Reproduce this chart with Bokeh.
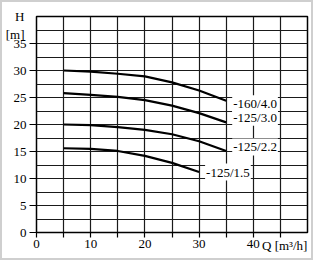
from bokeh.plotting import figure
from bokeh.models import FixedTicker, Range1d, InlineStyleSheet, LinearAxis
from bokeh.core.properties import value
from bokeh.embed import file_html
from bokeh.resources import INLINE

# Data
q_common = [5, 10, 15, 20, 25, 30, 35]
h_160_40 = [30.0, 29.8, 29.4, 28.9, 27.8, 26.3, 24.4]
h_125_30 = [25.8, 25.5, 25.1, 24.5, 23.5, 22.1, 20.4]
h_125_22 = [20.0, 19.9, 19.5, 19.0, 18.2, 16.9, 15.1]
q_125_15 = [5, 10, 15, 20, 25, 30]
h_125_15 = [15.6, 15.5, 15.1, 14.2, 12.9, 11.2]
series_names = ["-160/4.0", "-125/3.0", "-125/2.2", "-125/1.5"]
x_tick_labels = ["0", "10", "20", "30", "40"]
y_tick_labels = ["0", "5", "10", "15", "20", "25", "30", "35"]
x_title = "Q [m³/h]"
y_title = "\nH\n[m]"

FONT = "Times New Roman"

p = figure(width=313, height=260, output_backend="svg", toolbar_location=None,
           x_range=Range1d(0, 50), y_range=Range1d(0, 40),
           min_border_left=31, min_border_right=8, min_border_top=14, min_border_bottom=30)
p.background_fill_color = "white"
p.border_fill_color = "white"
p.outline_line_color = "black"
p.outline_line_width = 1.5
p.stylesheets = [InlineStyleSheet(css=":host { border: 2px solid #cfcfcf; }")]

# grids
p.xgrid.ticker = FixedTicker(ticks=[5 * i for i in range(1, 10)])
p.ygrid.ticker = FixedTicker(ticks=[2.5 * i for i in range(1, 16)])
for g in (p.xgrid, p.ygrid):
    g.grid_line_color = "#1a1a1a"
    g.grid_line_width = 1.2

# x axis
xt = [5 * i for i in range(0, 10)]
p.xaxis.ticker = FixedTicker(ticks=xt)
overrides = {}
for t in xt:
    overrides[t] = x_tick_labels[t // 10] if t % 10 == 0 else ""
p.xaxis.major_label_overrides = overrides
p.xaxis.axis_line_color = None
p.xaxis.major_tick_in = 0
p.xaxis.major_tick_out = 5
p.xaxis.major_tick_line_width = 1.2
p.xaxis.minor_tick_line_color = None
p.xaxis.major_label_standoff = 2
p.xaxis.major_label_text_font = FONT
p.xaxis.major_label_text_font_size = "13px"
p.xaxis.major_label_text_color = "black"

# x title as a second, tick-less axis below
qaxis = LinearAxis(ticker=FixedTicker(ticks=[45.8]), major_label_overrides={45.8: x_title},
                   axis_line_color=None, major_tick_line_color=None, minor_tick_line_color=None,
                   major_label_standoff=-19, major_label_text_font=FONT,
                   major_label_text_font_size="13px", major_label_text_color="black")
p.add_layout(qaxis, "below")

# y axis
yt = [5 * i for i in range(0, 8)]
p.yaxis.ticker = FixedTicker(ticks=yt)
p.yaxis.major_label_overrides = {t: y_tick_labels[i] for i, t in enumerate(yt)}
p.yaxis.axis_line_color = None
p.yaxis.major_tick_in = 0
p.yaxis.major_tick_out = 7
p.yaxis.major_tick_line_width = 1.2
p.yaxis.minor_tick_line_color = None
p.yaxis.major_label_standoff = 3
p.yaxis.major_label_text_font = FONT
p.yaxis.major_label_text_font_size = "13px"
p.yaxis.major_label_text_color = "black"
p.yaxis.axis_label = y_title
p.yaxis.axis_label_orientation = "horizontal"
p.yaxis.axis_label_align = "end"
p.yaxis.axis_label_standoff = -14
p.yaxis.axis_label_text_font = FONT
p.yaxis.axis_label_text_font_size = "13px"
p.yaxis.axis_label_text_font_style = "normal"
p.yaxis.axis_label_text_color = "black"

# curves
curves = [(q_common, h_160_40), (q_common, h_125_30), (q_common, h_125_22), (q_125_15, h_125_15)]
label_dy = [-3, 5, 4, 0]  # pixel nudges
for (qs, hs), name, dy in zip(curves, series_names, label_dy):
    p.line(qs, hs, line_color="black", line_width=2.2)
    p.text(x=[qs[-1]], y=[hs[-1]], text=[name], x_offset=6, y_offset=-dy,
           text_font=value(FONT), text_font_size="13px", text_color="black",
           text_baseline="middle", text_align="left",
           background_fill_color="white", padding=1)

open("out.html", "w").write(file_html(p, INLINE))
